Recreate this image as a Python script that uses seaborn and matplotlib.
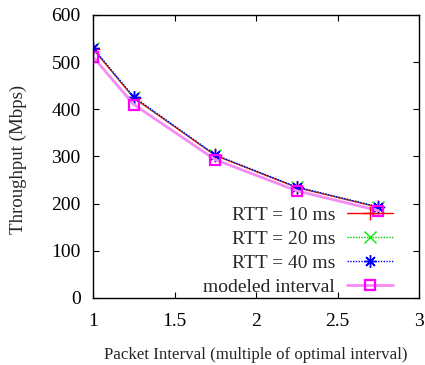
import matplotlib
matplotlib.use("Agg")
import matplotlib.pyplot as plt
import seaborn as sns
import pandas as pd

# data ────────────────────────────────────────────────────────────────────
interval = [1.0, 1.25, 1.75, 2.25, 2.75]
rtt_10 = [528, 424, 302, 234, 192]
rtt_20 = [529, 425, 303, 235, 193]
rtt_40 = [530, 426, 303, 235, 193]
modeled = [511, 410, 293, 227, 185]

x_ticks = [1, 1.5, 2, 2.5, 3]
x_tick_labels = ["1", "1.5", "2", "2.5", "3"]
y_ticks = [0, 100, 200, 300, 400, 500, 600]

sns.set_theme(style="ticks")
plt.rcParams["font.family"] = ["Liberation Serif", "DejaVu Serif"]

df = pd.DataFrame({"interval": interval, "rtt10": rtt_10, "rtt20": rtt_20,
                   "rtt40": rtt_40, "modeled": modeled})

fig = plt.figure(figsize=(4.25, 3.65), dpi=100)
ax = fig.add_axes([0.219, 0.184, 0.767, 0.775])

sns.lineplot(data=df, x="interval", y="rtt10", ax=ax, color="#ff0000",
             lw=1.0, marker="+", markersize=10, mew=1.0, mec="#ff0000",
             label="RTT = 10 ms")
sns.lineplot(data=df, x="interval", y="rtt20", ax=ax, color="#00cc00",
             lw=1.0, ls=(0, (1, 1)), marker="x", markersize=8.5, mew=1.0,
             mec="#00ee00", label="RTT = 20 ms")
sns.lineplot(data=df, x="interval", y="rtt40", ax=ax, color="#0000ff",
             lw=1.0, ls=(0, (1, 1)), marker=(8, 2, 0), markersize=9, mew=1.0,
             mec="#0000ff", label="RTT = 40 ms")
sns.lineplot(data=df, x="interval", y="modeled", ax=ax, color="#f48cf4",
             lw=2.0, marker="s", markersize=7, mew=1.6, mec="#ff00ff",
             mfc="none", label="modeled interval")

ax.set_xlim(1, 3)
ax.set_ylim(0, 600)
ax.set_xticks(x_ticks)
ax.set_xticklabels(x_tick_labels)
ax.set_yticks(y_ticks)
ax.tick_params(direction="in", length=4, width=0.8, labelsize=14,
               top=True, right=True, colors="black")
ax.tick_params(axis="x", pad=11)
ax.tick_params(axis="y", pad=9)
for s in ax.spines.values():
    s.set_linewidth(1.0)
    s.set_color("black")

ax.set_xlabel("Packet Interval (multiple of optimal interval)", fontsize=12.2, labelpad=12)
ax.set_ylabel("Throughput (Mbps)", fontsize=13.6)
ax.yaxis.set_label_coords(-0.202, 0.491)

leg = ax.legend(loc="lower right", bbox_to_anchor=(0.92, 0.008), frameon=False,
                markerfirst=False, fontsize=14, handlelength=2.37,
                handletextpad=0.6, labelspacing=0.32, borderpad=0,
                borderaxespad=0)

fig.savefig("out.png", dpi=100)
